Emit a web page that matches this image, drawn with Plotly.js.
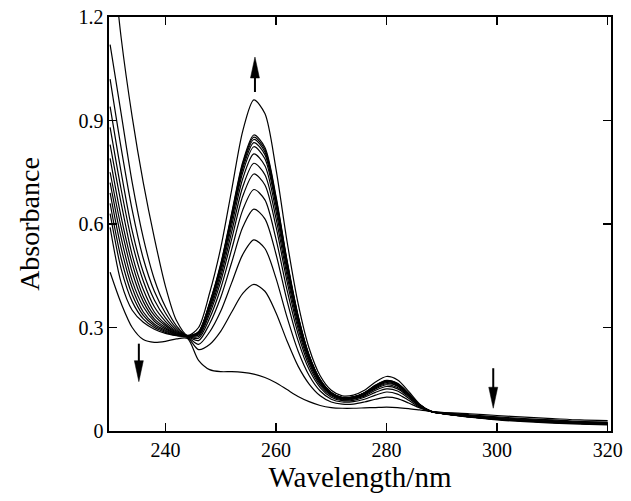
<!DOCTYPE html>
<html>
<head>
<meta charset="utf-8">
<script src="https://cdn.plot.ly/plotly-3.0.1.min.js"></script>
<style>
html,body{margin:0;padding:0;background:#fff;}
#chart{width:631px;height:501px;}
</style>
</head>
<body>
<div id="chart"></div>
<script>
// Wavelength grid (nm)
const wavelength = [230,232,234,236,238,240,242,244,246,248,250,252,254,256,258,260,262,264,266,268,270,272,274,276,278,280,282,284,286,288,290,295,300,305,310,315,320];

// Absorbance spectra, initial (s00) to final (s13)
const s00 = [.46,.37,.30,.265,.257,.26,.267, .268,.205,.178,.172,.172,.170,.165,.155,.140,.120,.100,.085,.074,.068,.066,.066,.067,.068,.069,.068,.065,.061,.057,.054, .050,.045,.040,.036,.032,.030];
const s01 = [.59,.43,.35,.315,.295,.283,.276, .271,.236,.251,.289,.345,.399,.425,.405,.343,.261,.188,.136,.102,.084,.078,.078,.084,.092,.098,.094,.081,.067,.057,.053, .047,.041,.036,.032,.028,.026];
const s02 = [.63,.47,.375,.325,.30,.286,.277, .272,.251,.287,.347,.430,.512,.554,.529,.443,.330,.232,.161,.116,.092,.084,.085,.092,.104,.113,.107,.089,.069,.057,.052, .045,.039,.034,.030,.026,.024];
const s03 = [.66,.50,.395,.335,.305,.289,.278, .273,.262,.311,.387,.489,.591,.643,.615,.513,.378,.262,.178,.126,.098,.088,.089,.098,.112,.122,.116,.095,.071,.057,.052, .044,.037,.032,.028,.025,.023];
const s04 = [.69,.53,.415,.345,.31,.292,.279, .274,.269,.327,.413,.527,.641,.700,.670,.557,.409,.282,.189,.132,.102,.090,.092,.101,.118,.129,.122,.099,.072,.057,.051, .043,.036,.031,.027,.024,.022];
const s05 = [.72,.56,.435,.36,.318,.296,.281, .275,.274,.340,.433,.557,.681,.745,.713,.593,.434,.297,.198,.137,.105,.092,.094,.104,.122,.134,.126,.102,.073,.057,.051, .043,.036,.031,.027,.023,.021];
const s06 = [.75,.59,.46,.375,.325,.30,.282, .275,.278,.349,.447,.578,.708,.776,.743,.617,.451,.308,.204,.140,.106,.094,.095,.106,.125,.137,.130,.103,.074,.057,.051, .042,.035,.030,.026,.023,.021];
const s07 = [.79,.62,.485,.39,.335,.305,.284, .275,.281,.356,.459,.596,.732,.803,.769,.638,.465,.317,.209,.143,.108,.095,.097,.108,.127,.140,.132,.105,.075,.057,.051, .042,.035,.030,.026,.022,.020];
const s08 = [.83,.66,.51,.41,.345,.31,.286, .275,.284,.362,.469,.610,.750,.824,.789,.654,.476,.324,.213,.145,.109,.096,.098,.109,.129,.143,.134,.106,.075,.057,.051, .042,.034,.029,.025,.022,.020];
const s09 = [.88,.70,.545,.435,.36,.318,.289, .276,.285,.365,.474,.618,.761,.836,.801,.663,.483,.328,.216,.147,.110,.096,.098,.110,.130,.144,.136,.107,.075,.057,.051, .042,.034,.029,.025,.022,.020];
const s10 = [.94,.75,.58,.46,.38,.328,.293, .276,.286,.368,.478,.623,.769,.845,.809,.670,.488,.331,.218,.148,.111,.097,.098,.111,.131,.145,.136,.108,.076,.057,.051, .041,.034,.029,.025,.022,.020];
const s11 = [1.02,.82,.64,.50,.405,.342,.298, .276,.287,.370,.481,.628,.775,.852,.816,.676,.492,.333,.219,.148,.111,.097,.099,.111,.132,.146,.137,.108,.076,.057,.051, .041,.034,.029,.025,.022,.020];
const s12 = [1.12,.92,.72,.56,.44,.36,.305, .276,.288,.372,.484,.632,.780,.858,.822,.681,.495,.335,.220,.149,.112,.097,.099,.111,.133,.147,.138,.109,.076,.057,.051, .041,.034,.029,.025,.022,.020];
const s13 = [1.45,1.14,.91,.72,.56,.42,.32, .277,.30,.40,.53,.70,.87,.96,.92,.76,.55,.37,.24,.16,.118,.102,.104,.118,.142,.158,.148,.115,.078,.058,.050, .040,.032,.027,.023,.020,.018];

const spectra = [s00,s01,s02,s03,s04,s05,s06,s07,s08,s09,s10,s11,s12,s13];

// Tick labels
const xTicks = [240,260,280,300,320];
const yTicks = [0,0.3,0.6,0.9,1.2];
const yTickText = ['0','0.3','0.6','0.9','1.2'];

// Arrow annotations: anchor at arrow tip (data coords), direction +1 up / -1 down
const arrowX = [256.2, 235.2, 299.3];
const arrowTipY = [1.084, 0.143, 0.066];
const arrowDir = [1, -1, -1];
const arrowLen = [35, 38, 40];

const traces = spectra.map(function(s){
  return {x: wavelength, y: s, type: 'scatter', mode: 'lines',
          line: {color: '#000', width: 1.2, shape: 'spline', smoothing: 0.8},
          hoverinfo: 'skip', showlegend: false};
});

const shapes = [];
for (let i = 0; i < arrowX.length; i++) {
  const d = arrowDir[i];
  const head = 21, hw = 4.5;
  shapes.push({type: 'path', xref: 'x', yref: 'y', xsizemode: 'pixel', ysizemode: 'pixel',
    xanchor: arrowX[i], yanchor: arrowTipY[i],
    path: 'M0,0 L' + (-hw) + ',' + (-d*head) + ' L' + hw + ',' + (-d*head) + ' Z',
    fillcolor: '#000', line: {color: '#000', width: 0.5}});
  shapes.push({type: 'line', xref: 'x', yref: 'y', xsizemode: 'pixel', ysizemode: 'pixel',
    xanchor: arrowX[i], yanchor: arrowTipY[i],
    x0: 0, x1: 0, y0: -d*(head-2), y1: -d*arrowLen[i],
    line: {color: '#000', width: 2}});
}

const serifFamily = 'Liberation Serif';
const layout = {
  width: 631, height: 501,
  margin: {l: 109, r: 20, t: 17, b: 70, pad: 0},
  font: {family: serifFamily, color: '#000', size: 20},
  xaxis: {
    range: [229.8, 320.6], tickvals: xTicks,
    ticks: 'inside', ticklen: 8, tickwidth: 1.5, tickcolor: '#000',
    showline: true, linecolor: '#000', linewidth: 1.6, mirror: 'ticks',
    showgrid: false, zeroline: false,
    tickfont: {family: serifFamily, size: 20, color: '#000'},
    title: {text: 'Wavelength/nm', font: {family: serifFamily, size: 29, color: '#000'}, standoff: 2}
  },
  yaxis: {
    range: [0, 1.2], tickvals: yTicks, ticktext: yTickText,
    ticks: 'inside', ticklen: 8, tickwidth: 1.5, tickcolor: '#000',
    showline: true, linecolor: '#000', linewidth: 1.6, mirror: 'ticks',
    showgrid: false, zeroline: false,
    tickfont: {family: serifFamily, size: 20, color: '#000'},
    title: {text: 'Absorbance', font: {family: serifFamily, size: 28, color: '#000'}, standoff: 30}
  },
  shapes: shapes
};

Plotly.newPlot('chart', traces, layout, {staticPlot: true}).then(function(){
  document.querySelectorAll('#chart svg text').forEach(function(t){
    t.style.setProperty('font-family', '"Liberation Serif"', 'important');
  });
  const d = document.createElement('div');
  d.style.cssText = 'position:absolute;left:0;top:0;width:1px;height:1px;overflow:hidden;color:#fff;font-family:"Liberation Serif";';
  d.textContent = '.';
  document.body.appendChild(d);
});
</script>
</body>
</html>
